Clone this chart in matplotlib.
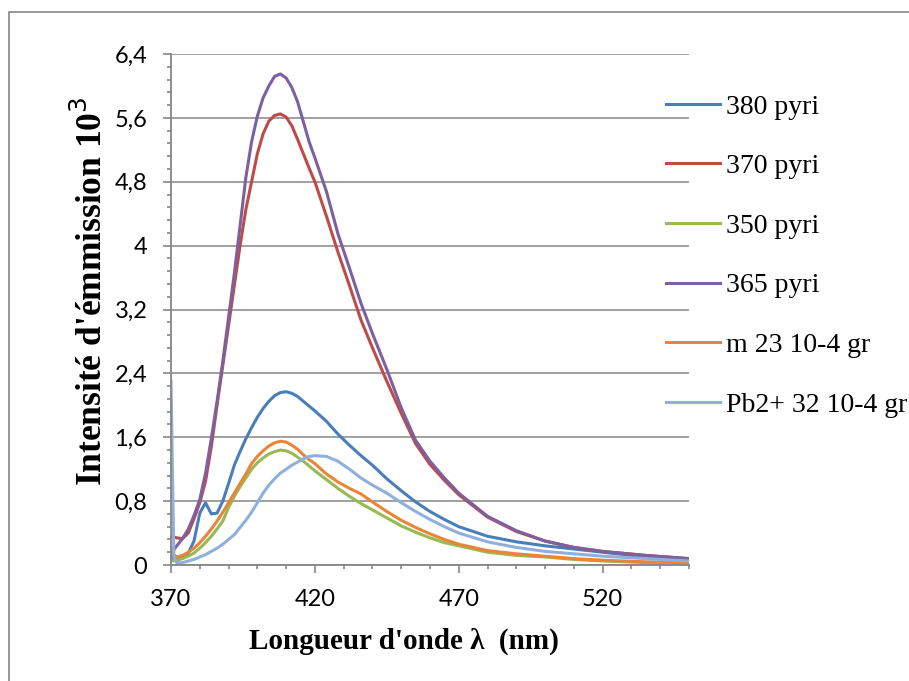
import matplotlib
matplotlib.use("Agg")
import matplotlib.pyplot as plt
from matplotlib.patches import Rectangle
from matplotlib.ticker import MultipleLocator, FixedLocator, FixedFormatter

# longueurs d'onde (nm)
wl = [370, 371, 372, 374, 376, 378, 380, 382, 384, 386, 388, 390, 392, 394, 396, 398,
      400, 402, 404, 406, 408, 410, 412, 414, 416, 418, 420, 424, 428, 432, 436, 440,
      445, 450, 455, 460, 465, 470, 480, 490, 500, 510, 520, 535, 550]

# intensités (x 10^3)
pyri_380 = [0.10, 0.08, 0.08, 0.10, 0.15, 0.30, 0.65, 0.78, 0.64, 0.65, 0.80, 1.02, 1.25, 1.42, 1.58, 1.72,
            1.85, 1.96, 2.05, 2.12, 2.16, 2.17, 2.15, 2.11, 2.05, 1.99, 1.93, 1.80, 1.64, 1.50, 1.37, 1.25,
            1.08, 0.93, 0.79, 0.67, 0.57, 0.48, 0.36, 0.29, 0.24, 0.20, 0.16, 0.10, 0.06]
pyri_370 = [0.35, 0.35, 0.34, 0.33, 0.40, 0.58, 0.78, 1.05, 1.48, 2.00, 2.50, 3.00, 3.50, 4.00, 4.45, 4.80,
            5.15, 5.40, 5.56, 5.63, 5.65, 5.61, 5.50, 5.33, 5.15, 4.97, 4.80, 4.37, 3.92, 3.50, 3.07, 2.72,
            2.30, 1.90, 1.52, 1.26, 1.06, 0.88, 0.60, 0.42, 0.30, 0.22, 0.17, 0.12, 0.08]
pyri_350 = [0.06, 0.05, 0.06, 0.08, 0.11, 0.15, 0.21, 0.28, 0.36, 0.45, 0.55, 0.72, 0.86, 0.98, 1.09, 1.20,
            1.28, 1.34, 1.39, 1.42, 1.44, 1.43, 1.40, 1.35, 1.30, 1.24, 1.18, 1.07, 0.96, 0.86, 0.77, 0.69,
            0.59, 0.49, 0.41, 0.34, 0.28, 0.24, 0.16, 0.12, 0.10, 0.07, 0.05, 0.03, 0.02]
pyri_365 = [0.12, 0.19, 0.24, 0.33, 0.45, 0.62, 0.82, 1.15, 1.58, 2.05, 2.55, 3.10, 3.65, 4.25, 4.85, 5.30,
            5.62, 5.85, 6.00, 6.12, 6.15, 6.10, 5.98, 5.80, 5.55, 5.30, 5.10, 4.68, 4.15, 3.72, 3.28, 2.90,
            2.45, 1.97, 1.56, 1.30, 1.09, 0.90, 0.61, 0.43, 0.30, 0.22, 0.17, 0.12, 0.08]
m23 = [0.22, 0.13, 0.10, 0.12, 0.16, 0.21, 0.28, 0.36, 0.45, 0.55, 0.66, 0.78, 0.90, 1.02, 1.14, 1.27,
       1.36, 1.43, 1.49, 1.53, 1.55, 1.54, 1.50, 1.45, 1.38, 1.32, 1.27, 1.14, 1.04, 0.96, 0.89, 0.79,
       0.67, 0.56, 0.47, 0.39, 0.32, 0.26, 0.18, 0.14, 0.11, 0.08, 0.06, 0.04, 0.03]
pb2 = [2.30, 0.10, 0.03, 0.03, 0.05, 0.07, 0.10, 0.13, 0.17, 0.21, 0.26, 0.32, 0.38, 0.47, 0.56, 0.66,
       0.78, 0.90, 1.00, 1.08, 1.15, 1.20, 1.25, 1.29, 1.33, 1.36, 1.37, 1.36, 1.30, 1.20, 1.09, 1.00,
       0.90, 0.78, 0.67, 0.57, 0.48, 0.40, 0.29, 0.22, 0.17, 0.14, 0.11, 0.08, 0.05]

series = [
    ("380 pyri", pyri_380, "#4A7EBB"),
    ("370 pyri", pyri_370, "#BE4B48"),
    ("350 pyri", pyri_350, "#98B954"),
    ("365 pyri", pyri_365, "#7D60A0"),
    ("m 23 10-4 gr", m23, "#EA8537"),
    ("Pb2+ 32 10-4 gr", pb2, "#8FB0DC"),
]

y_ticks = [0, 0.8, 1.6, 2.4, 3.2, 4, 4.8, 5.6, 6.4]
y_labels = ["0", "0,8", "1,6", "2,4", "3,2", "4", "4,8", "5,6", "6,4"]
x_ticks = [370, 420, 470, 520]

W, H = 909, 681
fig = plt.figure(figsize=(W / 100, H / 100), dpi=100)
ax = fig.add_axes([171 / W, 1 - 565 / H, (689 - 171) / W, (565 - 54) / H])

grey = "#868686"
for label, vals, col in series:
    ax.plot(wl, vals, color=col, lw=2.2, label=label, solid_joinstyle="round")

ax.set_xlim(370, 550)
ax.set_ylim(0, 6.4)
ax.yaxis.set_major_locator(FixedLocator(y_ticks))
ax.yaxis.set_major_formatter(FixedFormatter(y_labels))
ax.yaxis.set_minor_locator(MultipleLocator(0.16))
ax.xaxis.set_major_locator(FixedLocator(x_ticks))
ax.xaxis.set_minor_locator(MultipleLocator(10))
ax.grid(axis="y", which="major", color=grey, lw=1.1)
ax.set_axisbelow(True)

for s in ("top", "right"):
    ax.spines[s].set_visible(False)
for s in ("left", "bottom"):
    ax.spines[s].set_color(grey)
    ax.spines[s].set_linewidth(1.3)

ax.tick_params(which="major", length=6, width=1.2, color=grey, pad=11)
ax.tick_params(which="minor", length=3.2, width=1.2, color=grey)
for t in ax.get_xticklabels() + ax.get_yticklabels():
    t.set_fontfamily("Lato")
    t.set_fontsize(17)

fig.text(404 / W, 1 - 641 / H, "Longueur d'onde λ  (nm)", ha="center", va="center",
         fontsize=21, fontweight="bold", family="Liberation Serif")
fig.text(92 / W, 1 - 291 / H, "Intensité d'émmission 10$^3$", ha="center", va="center",
         rotation=90, fontsize=25.5, fontweight="bold", family="Liberation Serif")

leg = ax.legend(loc="upper left", bbox_to_anchor=(655 / W, 1 - 83 / H), bbox_transform=fig.transFigure,
                borderaxespad=0, frameon=False, handlelength=1.95, handletextpad=0.22,
                labelspacing=1.23, prop={"family": "Liberation Serif", "size": 20})

# cadre du graphique
fig.patches.append(Rectangle((9 / W, -0.1), 1.1, 1.1 - 12 / H, transform=fig.transFigure,
                             fill=False, edgecolor=grey, lw=1.2))

fig.savefig("out.png", dpi=100)
